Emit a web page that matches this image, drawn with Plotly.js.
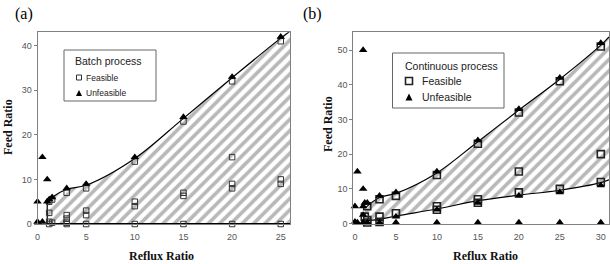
<!DOCTYPE html>
<html>
<head>
<meta charset="utf-8">
<script src="https://cdn.plot.ly/plotly-3.0.1.min.js"></script>
<style>
  html, body { margin: 0; padding: 0; background: #fff; }
  #chart { width: 610px; height: 264px; }
</style>
</head>
<body>
<div id="chart"></div>
<script>
// ---- (a) Batch process ----
const batchFeasX = [1.2, 1.2, 1.2, 1.2, 1.5, 1.5, 3, 3, 3, 3, 3, 5, 5, 5, 5, 10, 10, 10, 10, 15, 15, 15, 15, 20, 20, 20, 20, 20, 25, 25, 25, 25];
const batchFeasY = [5, 2.5, 0.5, 0, 5.5, 0.3, 7, 2, 1.2, 0.3, 0, 8, 3, 2, 0, 14, 5, 4, 0, 23, 7, 6.3, 0, 32, 15, 9, 8, 0, 41, 10, 9, 0];
const batchUnfX = [0, 0, 0.5, 0.5, 1, 1, 1.2, 1.5, 3, 5, 10, 15, 20, 25];
const batchUnfY = [5, 0.5, 15, 0.5, 10, 5, 5.5, 6, 8, 9, 15, 24, 33, 42];
// feasibility boundary (upper), region lies between it and zero feed ratio
const batchUpperX = [1, 1.5, 3, 5, 10, 15, 20, 25, 26];
const batchUpperY = [5, 6, 7.8, 8.7, 14.7, 23.7, 32.8, 41.7, 43.3];

// ---- (b) Continuous process ----
const contFeasX = [1.5, 1.2, 1.5, 1.5, 3, 3, 3, 5, 5, 10, 10, 10, 15, 15, 15, 20, 20, 20, 25, 25, 30, 30, 30];
const contFeasY = [5, 2, 1, 0.3, 7, 2, 0.5, 8, 3, 14, 5, 4, 23, 7, 6, 32, 15, 9, 41, 10, 51, 20, 12];
const contUnfX = [0, 0, 0.3, 0.3, 1, 1, 1, 1.2, 1, 1, 1.5, 1.5, 3, 3, 5, 5, 5, 10, 10, 10, 15, 15, 15, 20, 20, 20, 25, 25, 25, 30, 30, 30];
const contUnfY = [5, 0.5, 15, 0.3, 50, 10, 5, 6, 2.5, 0.3, 6, 0.3, 8, 0.3, 9, 2, 0.3, 15, 4, 0.3, 24, 6, 0.3, 33, 8, 0.3, 42, 9, 0.3, 52, 11, 0.3];
const contUpperX = [1.2, 3, 5, 10, 15, 20, 25, 30, 31];
const contUpperY = [4.4, 7.5, 8.7, 14.6, 23.6, 32.7, 41.6, 51.4, 53.8];
const contLowerX = [1.2, 3, 5, 10, 15, 20, 25, 30, 31];
const contLowerY = [0.8, 1.2, 2.2, 4.2, 6.6, 8.2, 9.6, 11.8, 12.6];

const W = 610, H = 264;
const px = v => v / W;
const py = v => 1 - v / H;

const hatch = { shape: '/', fgcolor: '#b8b8b8', bgcolor: '#ffffff', size: 8, solidity: 0.45 };
const squareA = { symbol: 'square-open', size: 5.5, color: '#333', line: { width: 1, color: '#333' } };
const squareB = { symbol: 'square-open', size: 7, color: '#222', line: { width: 1.6, color: '#222' } };
const tri = { symbol: 'triangle-up', size: 7.5, color: '#000', line: { width: 0 } };

const traces = [
  // (a) region: zero line then boundary filled down to it
  { x: [batchUpperX[0], batchUpperX[batchUpperX.length - 1]], y: [0, 0], xaxis: 'x', yaxis: 'y',
    mode: 'lines', line: { color: '#000', width: 2 }, hoverinfo: 'skip' },
  { x: batchUpperX, y: batchUpperY, xaxis: 'x', yaxis: 'y', mode: 'lines',
    line: { color: '#000', width: 1.2, shape: 'spline', smoothing: 1 },
    fill: 'tonexty', fillcolor: '#ffffff', fillpattern: hatch, hoverinfo: 'skip' },
  { x: [batchUpperX[0], batchUpperX[0]], y: [0, batchUpperY[0]], xaxis: 'x', yaxis: 'y',
    mode: 'lines', line: { color: '#000', width: 1.2 }, hoverinfo: 'skip' },
  { x: batchFeasX, y: batchFeasY, xaxis: 'x', yaxis: 'y', mode: 'markers', marker: squareA, cliponaxis: false },
  { x: batchUnfX, y: batchUnfY, xaxis: 'x', yaxis: 'y', mode: 'markers', marker: tri, cliponaxis: false },

  // (b) region between lower and upper boundaries
  { x: contLowerX, y: contLowerY, xaxis: 'x2', yaxis: 'y2', mode: 'lines',
    line: { color: '#000', width: 1.2, shape: 'spline', smoothing: 1 }, hoverinfo: 'skip' },
  { x: contUpperX, y: contUpperY, xaxis: 'x2', yaxis: 'y2', mode: 'lines',
    line: { color: '#000', width: 1.2, shape: 'spline', smoothing: 1 },
    fill: 'tonexty', fillcolor: '#ffffff', fillpattern: hatch, hoverinfo: 'skip' },
  { x: contFeasX, y: contFeasY, xaxis: 'x2', yaxis: 'y2', mode: 'markers', marker: squareB, cliponaxis: false },
  { x: contUnfX, y: contUnfY, xaxis: 'x2', yaxis: 'y2', mode: 'markers', marker: tri, cliponaxis: false }
];

const tickFont = { family: 'Liberation Sans, Arial, sans-serif', size: 9, color: '#555' };
const axisBase = {
  showline: true, linecolor: '#808080', linewidth: 1, mirror: true,
  showgrid: false, zeroline: false, tickfont: tickFont, fixedrange: true
};

const titleFont = { family: 'Liberation Serif, Times New Roman, serif', size: 12, color: '#111' };
const legFontTitle = { family: 'Liberation Sans, Arial, sans-serif', size: 10.5, color: '#222' };
const legFontA = { family: 'Liberation Sans, Arial, sans-serif', size: 8.5, color: '#222' };
const legFontB = { family: 'Liberation Sans, Arial, sans-serif', size: 10.5, color: '#222' };

function ann(text, x, y, font, opts) {
  return Object.assign({ text: text, xref: 'paper', yref: 'paper', x: px(x), y: py(y),
    showarrow: false, font: font, xanchor: 'center', yanchor: 'middle' }, opts || {});
}

const annotations = [
  ann('(a)', 24, 14, { family: 'Liberation Serif, serif', size: 16, color: '#000' }),
  ann('(b)', 312, 14, { family: 'Liberation Serif, serif', size: 16, color: '#000' }),
  ann('<b>Reflux Ratio</b>', 161, 256, titleFont),
  ann('<b>Reflux Ratio</b>', 485, 256, titleFont),
  ann('<b>Feed Ratio</b>', 8, 127, titleFont, { textangle: -90 }),
  ann('<b>Feed Ratio</b>', 328, 124, titleFont, { textangle: -90 }),
  ann('Batch process', 73, 61, legFontTitle, { xanchor: 'left' }),
  ann('Feasible', 84, 77.5, legFontA, { xanchor: 'left' }),
  ann('Unfeasible', 84, 93, legFontA, { xanchor: 'left' }),
  ann('Continuous process', 403, 66, legFontB, { xanchor: 'left' }),
  ann('Feasible', 420, 81, legFontB, { xanchor: 'left' }),
  ann('Unfeasible', 420, 97, legFontB, { xanchor: 'left' })
];

function triPath(cx, cy, w, h) {
  return 'M' + px(cx - w / 2) + ',' + py(cy + h / 2) + ' L' + px(cx + w / 2) + ',' + py(cy + h / 2) +
         ' L' + px(cx) + ',' + py(cy - h / 2) + ' Z';
}

const shapes = [
  { type: 'rect', xref: 'paper', yref: 'paper', x0: px(64), x1: px(156), y0: py(50), y1: py(101),
    line: { color: '#666', width: 1 }, fillcolor: '#fff', layer: 'below' },
  { type: 'rect', xref: 'paper', yref: 'paper', x0: px(76.5), x1: px(81.5), y0: py(75), y1: py(80),
    line: { color: '#333', width: 1 } },
  { type: 'path', xref: 'paper', yref: 'paper', path: triPath(79, 93, 6, 6), fillcolor: '#000', line: { width: 0 } },
  { type: 'rect', xref: 'paper', yref: 'paper', x0: px(392.5), x1: px(504), y0: py(53), y1: py(108),
    line: { color: '#666', width: 1 }, fillcolor: '#fff', layer: 'below' },
  { type: 'rect', xref: 'paper', yref: 'paper', x0: px(405.5), x1: px(412.5), y0: py(77.5), y1: py(84.5),
    line: { color: '#222', width: 1.6 } },
  { type: 'path', xref: 'paper', yref: 'paper', path: triPath(409, 97, 7, 7), fillcolor: '#000', line: { width: 0 } }
];

const layout = {
  width: W, height: H,
  margin: { l: 0, r: 0, t: 0, b: 0 },
  paper_bgcolor: '#fff', plot_bgcolor: '#fff',
  showlegend: false,
  xaxis: Object.assign({}, axisBase, { domain: [px(37.5), px(290)], range: [0, 25.95],
    tickvals: [0, 5, 10, 15, 20, 25], ticks: '', ticklabelstandoff: 4, anchor: 'y' }),
  yaxis: Object.assign({}, axisBase, { domain: [py(224), py(32.3)], range: [0, 43],
    tickvals: [0, 10, 20, 30, 40], ticks: 'outside', ticklen: 3, tickcolor: '#808080', anchor: 'x' }),
  xaxis2: Object.assign({}, axisBase, { domain: [px(353.3), px(609)], range: [-0.2, 31],
    tickvals: [0, 5, 10, 15, 20, 25, 30], ticks: '', ticklabelstandoff: 4, anchor: 'y2' }),
  yaxis2: Object.assign({}, axisBase, { domain: [py(224.3), py(32.3)], range: [-0.2, 55.1],
    tickvals: [0, 10, 20, 30, 40, 50], ticks: 'outside', ticklen: 3, tickcolor: '#808080', anchor: 'x2' }),
  annotations: annotations,
  shapes: shapes
};

Plotly.newPlot('chart', traces, layout, { displayModeBar: false, staticPlot: true });
</script>
</body>
</html>
